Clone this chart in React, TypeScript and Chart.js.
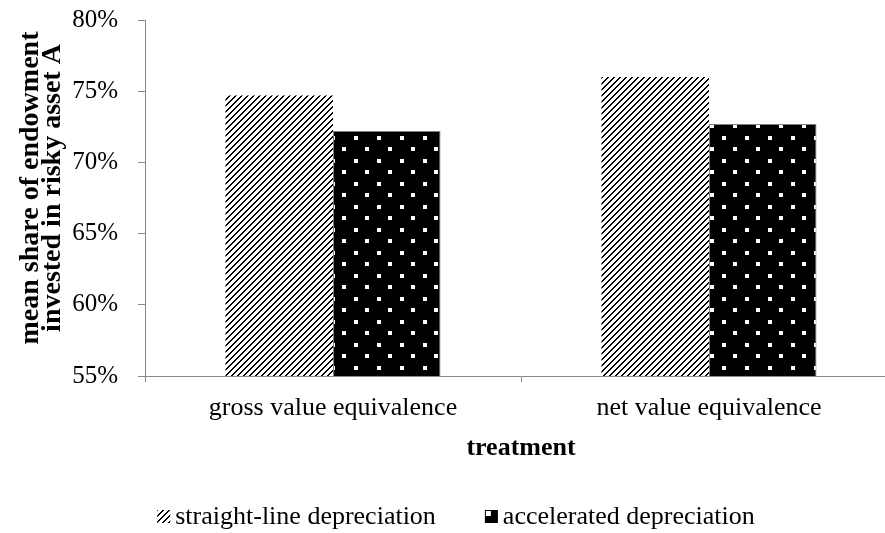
import React, { useEffect, useRef } from 'react';
import { Chart, registerables } from 'chart.js';

Chart.register(...registerables);

// ---- data ----
const categories = ['gross value equivalence', 'net value equivalence'];
const seriesNames = ['straight-line depreciation', 'accelerated depreciation'];
const straightLine = [0.747, 0.760];
const accelerated = [0.722, 0.727];
const yMin = 0.55;
const yMax = 0.80;
const yStep = 0.05;
const yTitleLines = ['mean share of endowment', 'invested in risky asset A'];
const xTitle = 'treatment';

const FONT = "'Times New Roman', 'Liberation Serif', serif";
const AXIS_GRAY = '#898989';
const CANVAS_W = 898;
const CANVAS_H = 533;

function makeHatch(ctx: CanvasRenderingContext2D): CanvasPattern {
  const s = 6;
  const c = document.createElement('canvas');
  c.width = s;
  c.height = s;
  const g = c.getContext('2d')!;
  g.fillStyle = '#ffffff';
  g.fillRect(0, 0, s, s);
  g.fillStyle = '#000000';
  for (let y = 0; y < s; y++) {
    for (let x = 0; x < s; x++) {
      if ((x + y) % s < 2) g.fillRect(x, y, 1, 1);
    }
  }
  return ctx.createPattern(c, 'repeat')!;
}

function makeDots(ctx: CanvasRenderingContext2D): CanvasPattern {
  const s = 23;
  const c = document.createElement('canvas');
  c.width = s;
  c.height = s;
  const g = c.getContext('2d')!;
  g.fillStyle = '#000000';
  g.fillRect(0, 0, s, s);
  g.fillStyle = '#ffffff';
  const dots = [
    [9, 21],
    [20, 9],
  ];
  for (const [dx, dy] of dots) {
    for (const ox of [-s, 0, s]) {
      for (const oy of [-s, 0, s]) {
        g.fillRect(dx + ox, dy + oy, 4, 4);
      }
    }
  }
  return ctx.createPattern(c, 'repeat')!;
}

export default function App() {
  const canvasRef = useRef<HTMLCanvasElement | null>(null);

  useEffect(() => {
    document.body.style.margin = '0';
    document.body.style.overflow = 'hidden';
    const canvas = canvasRef.current!;
    const ctx = canvas.getContext('2d')!;
    const hatch = makeHatch(ctx);
    const dots = makeDots(ctx);

    const textPlugin = {
      id: 'customText',
      afterDraw(chart: any) {
        const c: CanvasRenderingContext2D = chart.ctx;
        const area = chart.chartArea;
        c.save();
        c.fillStyle = '#000000';
        // y axis title (two lines, rotated)
        c.font = `bold 28px ${FONT}`;
        c.textAlign = 'center';
        c.textBaseline = 'alphabetic';
        const cy = (area.top + area.bottom) / 2 - 10;
        yTitleLines.forEach((line, i) => {
          c.save();
          c.translate(38 + i * 22, cy);
          c.rotate(-Math.PI / 2);
          c.fillText(line, 0, 0);
          c.restore();
        });
        // x axis title
        c.font = `bold 26px ${FONT}`;
        c.fillText(xTitle, (area.left + area.right) / 2, area.bottom + 79);

        // legend
        c.font = `26px ${FONT}`;
        c.textAlign = 'left';
        const box = 13;
        const gap = 5;
        const itemGap = 49;
        const widths = seriesNames.map((n) => c.measureText(n).width);
        const total = widths.reduce((a, w) => a + box + gap + w, 0) + itemGap * (seriesNames.length - 1);
        let x = 456 - total / 2;
        const baseY = 524;
        const boxTop = 510;
        seriesNames.forEach((name, i) => {
          if (i === 0) {
            c.fillStyle = hatch;
            c.fillRect(x, boxTop, box, box);
          } else {
            c.fillStyle = '#000000';
            c.fillRect(x, boxTop, box, box);
            c.fillStyle = '#ffffff';
            c.fillRect(x + 1, boxTop + 1, 5, 5);
          }
          c.fillStyle = '#000000';
          c.fillText(name, x + box + gap, baseY);
          x += box + gap + widths[i] + itemGap;
        });
        c.restore();
      },
    };

    const chart = new Chart(canvas, {
      type: 'bar',
      data: {
        labels: categories,
        datasets: [
          {
            label: seriesNames[0],
            data: straightLine,
            backgroundColor: hatch,
            borderWidth: 0,
          },
          {
            label: seriesNames[1],
            data: accelerated,
            backgroundColor: dots,
            borderColor: '#7f7f7f',
            borderWidth: 1,
          },
        ],
      },
      options: {
        animation: false,
        responsive: false,
        devicePixelRatio: 1,
        categoryPercentage: 0.572,
        barPercentage: 1,
        layout: { padding: { top: 20, right: 1, left: 0, bottom: 0 } },
        plugins: {
          legend: { display: false },
          tooltip: { enabled: false },
        },
        scales: {
          x: {
            offset: true,
            grid: {
              offset: true,
              drawOnChartArea: false,
              drawTicks: true,
              tickLength: 6,
              color: AXIS_GRAY,
            },
            border: { display: true, color: AXIS_GRAY, width: 1 },
            ticks: {
              color: '#000000',
              font: { family: FONT, size: 26 },
              padding: 11,
              maxRotation: 0,
              autoSkip: false,
            },
            afterFit: (scale: any) => {
              scale.height = 157;
              scale.paddingLeft = 0;
              scale.paddingRight = 0;
            },
          },
          y: {
            min: yMin,
            max: yMax,
            grid: {
              drawOnChartArea: false,
              drawTicks: true,
              tickLength: 7,
              color: AXIS_GRAY,
            },
            border: { display: true, color: AXIS_GRAY, width: 1 },
            ticks: {
              stepSize: yStep,
              color: '#000000',
              font: { family: FONT, size: 25 },
              padding: 20,
              callback: (v: any) => `${Math.round(Number(v) * 100)}%`,
            },
            afterFit: (scale: any) => {
              scale.width = 145;
              scale.paddingTop = 0;
              scale.paddingBottom = 0;
            },
          },
        },
      },
      plugins: [textPlugin],
    } as any);

    return () => {
      chart.destroy();
    };
  }, []);

  return (
    <div style={{ width: 885, height: CANVAS_H, overflow: 'hidden', background: '#ffffff' }}>
      <canvas ref={canvasRef} width={CANVAS_W} height={CANVAS_H} style={{ display: 'block' }} />
    </div>
  );
}
